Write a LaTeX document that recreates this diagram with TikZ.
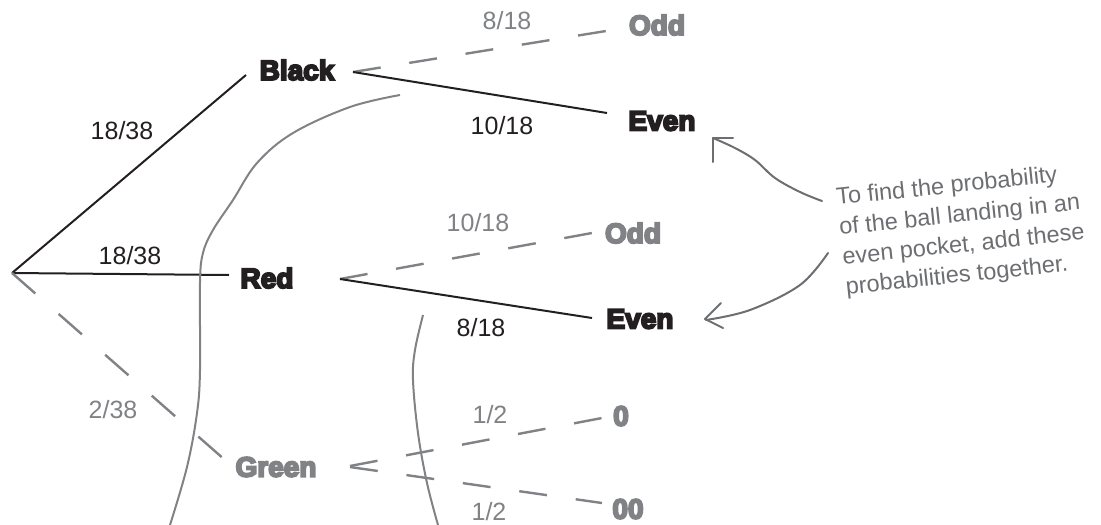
\documentclass[tikz,border=0pt]{standalone}
\usepackage{fontspec}
\setmainfont{Liberation Sans}
\newfontfamily\heavyfont{Liberation Sans Bold}
\definecolor{ink}{HTML}{231F20}
\definecolor{lgray}{HTML}{808285}
\definecolor{handc}{HTML}{6D6E71}
\newcommand\hvyblack[1]{\special{pdf:literal direct q 2 Tr 1.9 w 0.137 0.122 0.125 RG}#1\special{pdf:literal direct Q}}
\newcommand\hvygray[1]{\special{pdf:literal direct q 2 Tr 1.9 w 0.502 0.510 0.522 RG}#1\special{pdf:literal direct Q}}
\tikzset{
 lbl/.style={font=\heavyfont\fontsize{28}{28}\selectfont, text=ink, inner sep=0pt},
 glbl/.style={lbl, text=lgray},
 num/.style={font=\fontsize{25}{25}\selectfont, text=ink, inner sep=0pt},
 gnum/.style={num, text=lgray},
 solidbr/.style={draw=ink, line width=2pt},
 dashbr/.style={draw=lgray, line width=2.4pt, dash pattern=on 28pt off 29pt},
 curvy/.style={draw=lgray, line width=2pt},
 handline/.style={draw=handc, line width=2pt, line cap=round, line join=round},
 note/.style={font=\fontsize{23.5}{30}\selectfont, text=handc, align=left, inner sep=0pt, rotate=6},
}
\begin{document}
\begin{tikzpicture}[x=1pt,y=-1pt]
\path[use as bounding box] (0,0) rectangle (1101,525);

% label nodes
\node[lbl]  (black) at (297,70)  {\hvyblack{Black}};
\node[lbl]  (red)   at (267,278) {\hvyblack{Red}};
\node[glbl] (green) at (276,467) {\hvygray{Green}};
\node[glbl] (odd1)  at (657,25)  {\hvygray{Odd}};
\node[lbl]  (even1) at (662,121) {\hvyblack{Even}};
\node[glbl] (odd2)  at (633,233) {\hvygray{Odd}};
\node[lbl]  (even2) at (640,319) {\hvyblack{Even}};
\node[glbl] (zero)  at (621,416) {\hvygray{0}};
\node[glbl] (dzero) at (628,509) {\hvygray{00}};

% connector end points
\coordinate (root) at (12,273);
\coordinate (bL) at (246,75);  \coordinate (bR) at (353,72);
\coordinate (rL) at (229,275); \coordinate (rR) at (340,279);
\coordinate (gL) at (225,460); \coordinate (gR1) at (350,466); \coordinate (gR2) at (350,467);
\coordinate (o1) at (606,31);  \coordinate (e1) at (607,113);
\coordinate (o2) at (592,233); \coordinate (e2) at (592,318);
\coordinate (z0) at (602,418); \coordinate (z00) at (602,503);

% branches
\draw[solidbr] (root) -- (bL);
\draw[solidbr] (root) -- (rL);
\draw[dashbr, dash pattern=on 31pt off 31pt] (root) -- (gL);
\draw[dashbr] (bR) -- (o1);
\draw[solidbr] (bR) -- (e1);
\draw[dashbr] (rR) -- (o2);
\draw[solidbr] (rR) -- (e2);
\draw[dashbr] (gR1) -- (z0);
\draw[dashbr] (gR2) -- (z00);

% probabilities
\node[num]  (p1) at (122,131) {18/38};
\node[num]  (p2) at (130,256) {18/38};
\node[gnum] (p3) at (113,410) {2/38};
\node[gnum] (p4) at (507,21)  {8/18};
\node[num]  (p5) at (502,126) {10/18};
\node[gnum] (p6) at (478,223) {10/18};
\node[num]  (p7) at (481,328) {8/18};
\node[gnum] (p8) at (490,415) {1/2};
\node[gnum] (p9) at (489,512) {1/2};

% hand drawn curves
\draw[curvy] plot[smooth, tension=0.6] coordinates {(400,95) (350,107) (293,133) (257,163) (233,200) (213,230) (203,253) (200,283) (200,370) (197,413) (187,467) (170,525)};
\draw[curvy] plot[smooth, tension=0.6] coordinates {(423,315) (415,350) (413,380) (418,433) (427,483) (438,525)};

% annotation
\node[note] (txt) at (962,231) {To find the probability\\of the ball landing in an\\even pocket, add these\\probabilities together.};
\draw[handline] plot[smooth, tension=0.6] coordinates {(822,201) (800,192) (775,178) (755,160) (735,148) (713,138)};
\draw[handline] (713,162) -- (713,138) -- (733,138);
\draw[handline] plot[smooth, tension=0.6] coordinates {(828,253) (800,285) (750,310) (706,320)};
\draw[handline] (721,303) -- (705,319) -- (723,328);
\end{tikzpicture}
\end{document}
